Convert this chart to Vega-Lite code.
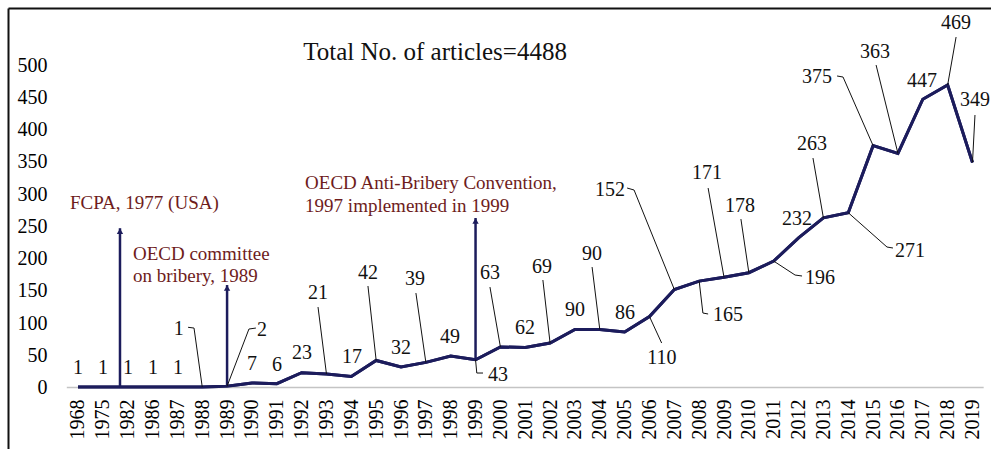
{
  "$schema": "https://vega.github.io/schema/vega-lite/v6.json",
  "width": 983,
  "height": 441,
  "autosize": {"type": "none"},
  "padding": {"left": 8, "top": 8, "right": 0, "bottom": 0},
  "background": "#ffffff",
  "config": {"font": "Liberation Serif", "view": {"stroke": null}},
  "datasets": {
    "points": [
      {"year": "1968", "i": 0, "n": 1},
      {"year": "1975", "i": 1, "n": 1},
      {"year": "1982", "i": 2, "n": 1},
      {"year": "1986", "i": 3, "n": 1},
      {"year": "1987", "i": 4, "n": 1},
      {"year": "1988", "i": 5, "n": 1},
      {"year": "1989", "i": 6, "n": 2},
      {"year": "1990", "i": 7, "n": 7},
      {"year": "1991", "i": 8, "n": 6},
      {"year": "1992", "i": 9, "n": 23},
      {"year": "1993", "i": 10, "n": 21},
      {"year": "1994", "i": 11, "n": 17},
      {"year": "1995", "i": 12, "n": 42},
      {"year": "1996", "i": 13, "n": 32},
      {"year": "1997", "i": 14, "n": 39},
      {"year": "1998", "i": 15, "n": 49},
      {"year": "1999", "i": 16, "n": 43},
      {"year": "2000", "i": 17, "n": 63},
      {"year": "2001", "i": 18, "n": 62},
      {"year": "2002", "i": 19, "n": 69},
      {"year": "2003", "i": 20, "n": 90},
      {"year": "2004", "i": 21, "n": 90},
      {"year": "2005", "i": 22, "n": 86},
      {"year": "2006", "i": 23, "n": 110},
      {"year": "2007", "i": 24, "n": 152},
      {"year": "2008", "i": 25, "n": 165},
      {"year": "2009", "i": 26, "n": 171},
      {"year": "2010", "i": 27, "n": 178},
      {"year": "2011", "i": 28, "n": 196},
      {"year": "2012", "i": 29, "n": 232},
      {"year": "2013", "i": 30, "n": 263},
      {"year": "2014", "i": 31, "n": 271},
      {"year": "2015", "i": 32, "n": 375},
      {"year": "2016", "i": 33, "n": 363},
      {"year": "2017", "i": 34, "n": 447},
      {"year": "2018", "i": 35, "n": 469},
      {"year": "2019", "i": 36, "n": 349}
    ],
    "labels": [
      {"t": "1", "x": 0, "y": 30.2},
      {"t": "1", "x": 1.01, "y": 30.2},
      {"t": "1", "x": 2.01, "y": 30.2},
      {"t": "1", "x": 3.02, "y": 30.2},
      {"t": "1", "x": 4.02, "y": 30.2},
      {"t": "1", "x": 4.06, "y": 90.7},
      {"t": "2", "x": 7.41, "y": 89.1},
      {"t": "7", "x": 7.0, "y": 36.4},
      {"t": "6", "x": 8.01, "y": 34.9},
      {"t": "23", "x": 9.02, "y": 53.5},
      {"t": "21", "x": 9.66, "y": 146.5},
      {"t": "17", "x": 11.03, "y": 47.3},
      {"t": "42", "x": 11.67, "y": 177.5},
      {"t": "32", "x": 13.0, "y": 61.2},
      {"t": "39", "x": 13.56, "y": 168.2},
      {"t": "49", "x": 14.97, "y": 78.3},
      {"t": "43", "x": 16.9, "y": 19.4},
      {"t": "63", "x": 16.58, "y": 177.5},
      {"t": "62", "x": 17.99, "y": 92.2},
      {"t": "69", "x": 18.67, "y": 186.8},
      {"t": "90", "x": 20.0, "y": 120.2},
      {"t": "90", "x": 20.69, "y": 207.0},
      {"t": "86", "x": 22.01, "y": 115.5},
      {"t": "110", "x": 23.5, "y": 45.7},
      {"t": "152", "x": 21.41, "y": 306.2},
      {"t": "165", "x": 26.16, "y": 112.4},
      {"t": "171", "x": 25.32, "y": 332.6},
      {"t": "178", "x": 26.64, "y": 281.4},
      {"t": "196", "x": 29.86, "y": 170.5},
      {"t": "232", "x": 28.94, "y": 261.2},
      {"t": "263", "x": 29.54, "y": 377.5},
      {"t": "271", "x": 33.49, "y": 211.6},
      {"t": "375", "x": 29.74, "y": 481.4},
      {"t": "363", "x": 32.08, "y": 520.2},
      {"t": "447", "x": 33.97, "y": 475.2},
      {"t": "469", "x": 35.34, "y": 565.1},
      {"t": "349", "x": 36.1, "y": 445.7}
    ],
    "leaders": [
      {"id": "1988", "k": 0, "x": 4.43, "y": 93.4},
      {"id": "1988", "k": 1, "x": 4.67, "y": 92.2},
      {"id": "1988", "k": 2, "x": 5, "y": 1},
      {"id": "1989", "k": 0, "x": 7.16, "y": 92.2},
      {"id": "1989", "k": 1, "x": 6.88, "y": 90.7},
      {"id": "1989", "k": 2, "x": 6, "y": 2},
      {"id": "1993", "k": 0, "x": 9.66, "y": 124.8},
      {"id": "1993", "k": 1, "x": 10, "y": 21},
      {"id": "1995", "k": 0, "x": 11.67, "y": 157.4},
      {"id": "1995", "k": 1, "x": 12, "y": 42},
      {"id": "1997", "k": 0, "x": 13.6, "y": 146.5},
      {"id": "1997", "k": 1, "x": 14, "y": 39},
      {"id": "1999", "k": 0, "x": 16, "y": 43},
      {"id": "1999", "k": 1, "x": 16.05, "y": 22.5},
      {"id": "1999", "k": 2, "x": 16.3, "y": 22.5},
      {"id": "2000", "k": 0, "x": 16.58, "y": 155.8},
      {"id": "2000", "k": 1, "x": 17, "y": 63},
      {"id": "2002", "k": 0, "x": 18.71, "y": 166.7},
      {"id": "2002", "k": 1, "x": 19, "y": 69},
      {"id": "2004", "k": 0, "x": 20.69, "y": 186.8},
      {"id": "2004", "k": 1, "x": 21, "y": 90},
      {"id": "2006", "k": 0, "x": 23, "y": 110},
      {"id": "2006", "k": 1, "x": 23.49, "y": 69.0},
      {"id": "2007", "k": 0, "x": 22.1, "y": 309.3},
      {"id": "2007", "k": 1, "x": 22.38, "y": 306.2},
      {"id": "2007", "k": 2, "x": 24, "y": 152},
      {"id": "2008", "k": 0, "x": 25, "y": 165},
      {"id": "2008", "k": 1, "x": 25.15, "y": 115.5},
      {"id": "2008", "k": 2, "x": 25.36, "y": 114.0},
      {"id": "2009", "k": 0, "x": 25.36, "y": 309.3},
      {"id": "2009", "k": 1, "x": 26, "y": 171},
      {"id": "2010", "k": 0, "x": 26.68, "y": 261.2},
      {"id": "2010", "k": 1, "x": 27, "y": 178},
      {"id": "2011", "k": 0, "x": 28, "y": 196},
      {"id": "2011", "k": 1, "x": 28.86, "y": 174.4},
      {"id": "2011", "k": 2, "x": 29.14, "y": 172.9},
      {"id": "2013", "k": 0, "x": 29.58, "y": 355.8},
      {"id": "2013", "k": 1, "x": 30, "y": 263},
      {"id": "2014", "k": 0, "x": 31, "y": 271},
      {"id": "2014", "k": 1, "x": 32.56, "y": 217.8},
      {"id": "2014", "k": 2, "x": 32.8, "y": 216.3},
      {"id": "2015", "k": 0, "x": 30.55, "y": 483.0},
      {"id": "2015", "k": 1, "x": 30.79, "y": 481.4},
      {"id": "2015", "k": 2, "x": 32, "y": 375},
      {"id": "2016", "k": 0, "x": 32.12, "y": 500},
      {"id": "2016", "k": 1, "x": 33, "y": 363},
      {"id": "2018", "k": 0, "x": 35.34, "y": 543.4},
      {"id": "2018", "k": 1, "x": 35, "y": 469},
      {"id": "2019", "k": 0, "x": 36.1, "y": 422.5},
      {"id": "2019", "k": 1, "x": 36, "y": 349}
    ],
    "arrows": [
      {"event": "FCPA", "x": 1.69, "base": 0, "top": 247},
      {"event": "OECD committee", "x": 6, "base": 2, "top": 158.9},
      {"event": "OECD convention", "x": 16, "base": 43, "top": 262.8}
    ],
    "baseline": [
      {"from": -0.45, "to": 36.45, "y": 0}
    ],
    "notes": [
      {"t": "FCPA, 1977 (USA)", "x": -0.32, "y": 286},
      {"t": "OECD committee", "x": 2.21, "y": 206.9},
      {"t": "on bribery, 1989", "x": 2.21, "y": 172.9},
      {"t": "OECD Anti-Bribery Convention,", "x": 9.14, "y": 317.1},
      {"t": "1997 implemented in 1999", "x": 9.14, "y": 281.4}
    ],
    "heading": [
      {"t": "Total No. of articles=4488", "x": 14.37, "y": 520.2}
    ]
  },
  "layer": [
    {
      "data": {"name": "points"},
      "mark": {"type": "line", "color": "#1c1c5c", "strokeWidth": 3, "strokeJoin": "miter"},
      "encoding": {
        "x": {
          "field": "i", "type": "quantitative",
          "scale": {"domain": [-2.817, 36.745], "nice": false, "zero": false},
          "axis": {
            "orient": "bottom", "title": null, "values": [0,1,2,3,4,5,6,7,8,9,10,11,12,13,14,15,16,17,18,19,20,21,22,23,24,25,26,27,28,29,30,31,32,33,34,35,36],
            "labelExpr": "['1968','1975','1982','1986','1987','1988','1989','1990','1991','1992','1993','1994','1995','1996','1997','1998','1999','2000','2001','2002','2003','2004','2005','2006','2007','2008','2009','2010','2011','2012','2013','2014','2015','2016','2017','2018','2019'][datum.value]",
            "labelAngle": 270, "labelFontSize": 20, "labelColor": "#000000", "labelFont": "Liberation Serif",
            "offset": -52, "labelPadding": 2, "domain": false, "ticks": false, "grid": false,
            "labelOverlap": false, "labelBound": false, "labelFlush": false
          }
        },
        "y": {
          "field": "n", "type": "quantitative",
          "scale": {"domain": [-95.3, 588.4], "nice": false, "zero": false},
          "axis": {
            "title": null, "values": [0,50,100,150,200,250,300,350,400,450,500],
            "labelFontSize": 20, "labelColor": "#000000", "labelFont": "Liberation Serif",
            "labelPadding": -39, "ticks": false, "grid": false,
            "domain": true, "domainColor": "#111111", "domainWidth": 2,
            "labelOverlap": false, "labelBound": false, "labelFlush": false
          }
        }
      }
    },
    {
      "data": {"name": "baseline"},
      "mark": {"type": "rule", "color": "#c4c4c4", "strokeWidth": 1.5},
      "encoding": {
        "x": {"field": "from", "type": "quantitative", "axis": null},
        "x2": {"field": "to"},
        "y": {"field": "y", "type": "quantitative"}
      }
    },
    {
      "data": {"name": "arrows"},
      "mark": {"type": "rule", "color": "#1c1c5c", "strokeWidth": 2.5},
      "encoding": {
        "x": {"field": "x", "type": "quantitative", "axis": null},
        "y": {"field": "base", "type": "quantitative"},
        "y2": {"field": "top"}
      }
    },
    {
      "data": {"name": "arrows"},
      "mark": {"type": "point", "shape": "triangle-up", "filled": true, "color": "#1c1c5c", "size": 40, "opacity": 1, "yOffset": 3},
      "encoding": {
        "x": {"field": "x", "type": "quantitative", "axis": null},
        "y": {"field": "top", "type": "quantitative"}
      }
    },
    {
      "data": {"name": "points"},
      "mark": {"type": "line", "color": "#1c1c5c", "strokeWidth": 3, "strokeJoin": "miter"},
      "encoding": {
        "x": {"field": "i", "type": "quantitative", "axis": null},
        "y": {"field": "n", "type": "quantitative"}
      }
    },
    {
      "data": {"name": "leaders"},
      "mark": {"type": "line", "color": "#111111", "strokeWidth": 1},
      "encoding": {
        "x": {"field": "x", "type": "quantitative", "axis": null},
        "y": {"field": "y", "type": "quantitative"},
        "detail": {"field": "id", "type": "nominal"},
        "order": {"field": "k", "type": "quantitative"}
      }
    },
    {
      "data": {"name": "labels"},
      "mark": {"type": "text", "fontSize": 20, "color": "#111111", "align": "center", "baseline": "middle", "font": "Liberation Serif"},
      "encoding": {
        "x": {"field": "x", "type": "quantitative", "axis": null},
        "y": {"field": "y", "type": "quantitative"},
        "text": {"field": "t", "type": "nominal"}
      }
    },
    {
      "data": {"name": "notes"},
      "mark": {"type": "text", "fontSize": 19, "color": "#6e1c1c", "align": "left", "baseline": "middle", "font": "Liberation Serif"},
      "encoding": {
        "x": {"field": "x", "type": "quantitative", "axis": null},
        "y": {"field": "y", "type": "quantitative"},
        "text": {"field": "t", "type": "nominal"}
      }
    },
    {
      "data": {"name": "heading"},
      "mark": {"type": "text", "fontSize": 25, "color": "#111111", "align": "center", "baseline": "middle", "font": "Liberation Serif"},
      "encoding": {
        "x": {
          "field": "x", "type": "quantitative",
          "axis": {"orient": "top", "title": null, "labels": false, "ticks": false, "grid": false, "domain": true, "domainColor": "#111111", "domainWidth": 2}
        },
        "y": {"field": "y", "type": "quantitative"},
        "text": {"field": "t", "type": "nominal"}
      }
    }
  ],
  "resolve": {"axis": {"x": "independent"}}
}
